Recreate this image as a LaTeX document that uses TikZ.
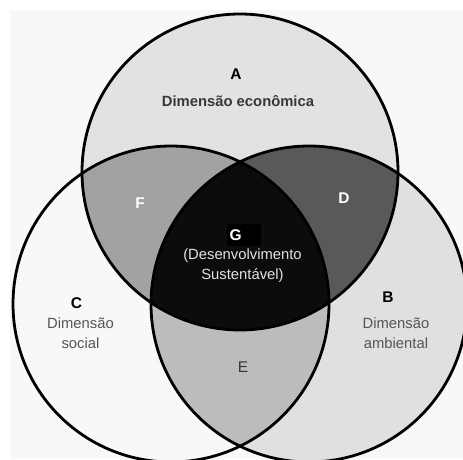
\documentclass[tikz,border=0pt]{standalone}
\usepackage{fontspec}
\setmainfont{Liberation Sans}
\definecolor{bgc}{HTML}{F8F8F8}
\definecolor{ca}{HTML}{E2E2E2}
\definecolor{cb}{HTML}{E0E0E0}
\definecolor{cc}{HTML}{F8F8F8}
\definecolor{cf}{HTML}{A2A2A2}
\definecolor{cd}{HTML}{5A5858}
\definecolor{ce}{HTML}{BCBCBC}
\definecolor{cg}{HTML}{0C0C0C}
\definecolor{tdark}{HTML}{383838}
\definecolor{tmid}{HTML}{555555}
\definecolor{tlight}{HTML}{E2E2E2}
\begin{document}
\begin{tikzpicture}[x=1pt,y=-1pt,
  ring/.style={draw=black,line width=2.8pt},
  lbl/.style={font=\fontsize{15.5}{20}\selectfont\bfseries,inner sep=0pt},
  dsc/.style={font=\fontsize{14.8}{20}\selectfont\bfseries,inner sep=0pt},
  txt/.style={font=\fontsize{14.8}{20}\selectfont,inner sep=0pt,align=center}]
\useasboundingbox (0,0) rectangle (463,459);
\fill[white] (0,0) rectangle (463,459);
\fill[bgc] (10,10) rectangle (463,459);
\def\rr{158}
\coordinate (cA) at (240,172);
\coordinate (cB) at (309,304);
\coordinate (cC) at (171,304);
\fill[ca] (cA) circle (\rr);
\fill[cb] (cB) circle (\rr);
\fill[cc] (cC) circle (\rr);
\begin{scope}
  \clip (cA) circle (\rr);
  \fill[cf] (cC) circle (\rr);
  \fill[cd] (cB) circle (\rr);
\end{scope}
\begin{scope}
  \clip (cB) circle (\rr);
  \fill[ce] (cC) circle (\rr);
  \clip (cA) circle (\rr);
  \fill[cg] (cC) circle (\rr);
\end{scope}
\draw[ring] (cA) circle (\rr);
\draw[ring] (cB) circle (\rr);
\draw[ring] (cC) circle (\rr);
% texts
\node[lbl] (A) at (236,74) {A};
\node[dsc,text=tdark] (Adesc) at (238,101) {Dimensão econômica};
\node[lbl,text=white] (F) at (140,203) {F};
\node[lbl,text=white] (D) at (344,198) {D};
\node[lbl,text=white,fill=black,anchor=west,minimum height=22pt] (G) at (227,235) {\makebox[34pt][l]{\hspace{2.5pt}G}};
\node[txt,text=tlight] (Gdesc) at (242.5,265.5) {(Desenvolvimento\\Sustentável)};
\node[lbl] (C) at (76.5,303) {C};
\node[txt,text=tmid] (Cdesc) at (80.5,333) {Dimensão\\social};
\node[lbl] (B) at (388,297) {B};
\node[txt,text=tmid] (Bdesc) at (396,333) {Dimensão\\ambiental};
\node[lbl,text=tdark,font=\fontsize{15.5}{20}\selectfont] (E) at (243,367) {E};
\end{tikzpicture}
\end{document}
